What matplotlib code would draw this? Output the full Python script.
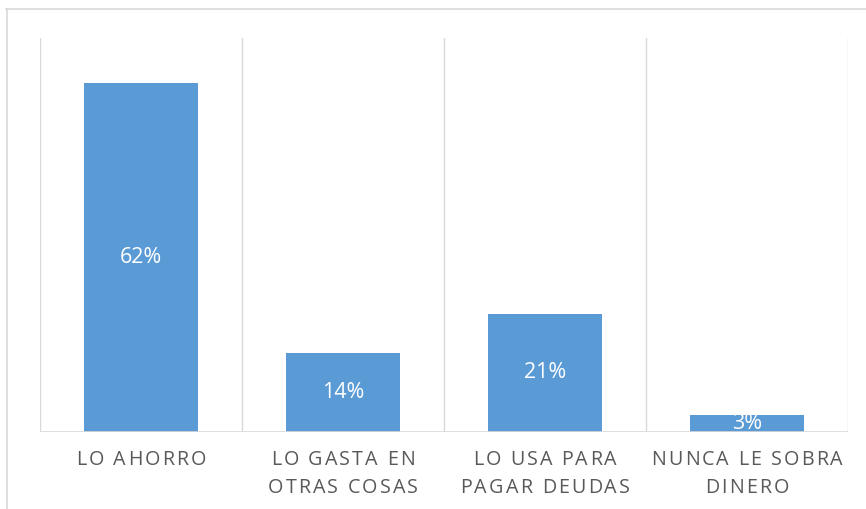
"""
plot.py — 余ったお金の使い道（棒グラフ）
出力: out.png
"""
import matplotlib
matplotlib.use("Agg")
import matplotlib.pyplot as plt  # noqa: E402
from matplotlib import transforms  # noqa: E402
from matplotlib.font_manager import FontProperties, findfont  # noqa: E402
from matplotlib.ft2font import FT2Font  # noqa: E402
from matplotlib.lines import Line2D  # noqa: E402

# --- データ ---
CATEGORIES = [["LO AHORRO"],
              ["LO GASTA EN", "OTRAS COSAS"],
              ["LO USA PARA", "PAGAR DEUDAS"],
              ["NUNCA LE SOBRA", "DINERO"]]
VALUES = [62, 14, 21, 3]

BAR_COLOR = "#5B9BD5"
GRID_COLOR = "#D9D9D9"
TEXT_COLOR = "#595959"
FONT = "Open Sans"
plt.rcParams["font.family"] = [FONT, "DejaVu Sans"]


def spaced_text(fig, ax, x, dy_pt, s, size, tracking_pt, color):
    """文字間隔を広げて中央揃えで描く（x はデータ座標、dy はポイント）"""
    fp = FontProperties(family=FONT, size=size)
    font = FT2Font(findfont(fp))
    font.set_size(size, 72)
    adv = [font.load_char(ord(c)).linearHoriAdvance / 65536 for c in s]
    total = sum(adv) + tracking_pt * (len(s) - 1)
    base = ax.get_xaxis_transform()
    pos = -total / 2
    for c, a in zip(s, adv):
        tr = transforms.offset_copy(base, fig, x=pos, y=dy_pt, units="points")
        ax.text(x, 0, c, transform=tr, ha="left", va="center", fontsize=size,
                color=color, clip_on=False)
        pos += a + tracking_pt


def main() -> None:
    fig = plt.figure(figsize=(8.66, 5.09), dpi=100)
    W, H = 866, 509
    ax = fig.add_axes([40 / W, 1 - 432 / H, (848 - 40) / W, (432 - 38) / H])

    xs = list(range(len(VALUES)))
    ax.bar(xs, VALUES, width=0.56, color=BAR_COLOR, zorder=2)
    for x, v in zip(xs, VALUES):
        ax.text(x, v / 2, f"{v}%", ha="center", va="center", color="white",
                fontsize=15.5, zorder=3)

    ax.set_xlim(-0.5, len(VALUES) - 0.5)
    ax.set_ylim(0, 70)
    for b in [i - 0.5 for i in range(len(VALUES) + 1)]:
        ax.axvline(b, color=GRID_COLOR, lw=1, zorder=1)
    ax.axhline(0, color=GRID_COLOR, lw=1.2, zorder=3)
    for sp in ax.spines.values():
        sp.set_visible(False)
    ax.set_xticks([])
    ax.set_yticks([])

    # カテゴリ名（字間広め）
    for x, lines in zip(xs, CATEGORIES):
        for k, line in enumerate(lines):
            spaced_text(fig, ax, x, -20.5 - 19.5 * k, line, 14.2, 1.5, TEXT_COLOR)

    # 外枠（右と下は切れている）
    fig.add_artist(Line2D([6 / W, 1], [1 - 8.5 / H] * 2, color=GRID_COLOR,
                          lw=1.2, transform=fig.transFigure))
    fig.add_artist(Line2D([6.5 / W] * 2, [0, 1 - 8.5 / H], color=GRID_COLOR,
                          lw=1.2, transform=fig.transFigure))

    fig.savefig("out.png", dpi=100)


if __name__ == "__main__":
    main()
